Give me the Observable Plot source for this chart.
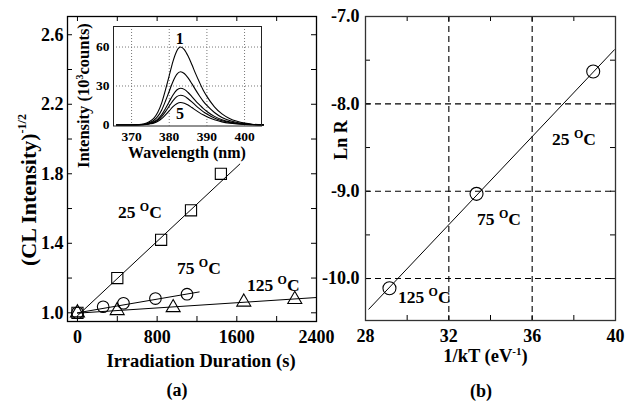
<!DOCTYPE html>
<html><head><meta charset="utf-8">
<script src="https://cdn.jsdelivr.net/npm/d3@7"></script>
<script src="https://cdn.jsdelivr.net/npm/@observablehq/plot@0.6"></script>
<style>
html,body{margin:0;padding:0;background:#fff;}
#c{position:relative;width:633px;height:405px;overflow:hidden;background:#fff;}
#c svg{position:absolute;background:transparent;overflow:visible;}
</style></head><body><div id="c"></div>
<script>
// ---------- Panel (a): (CL Intensity)^-1/2 vs irradiation duration ----------
const sqX = [0, 400, 840, 1140, 1440];
const sqY = [1.0, 1.20, 1.42, 1.59, 1.80];
const ciX = [0, 258, 462, 783, 1100];
const ciY = [1.0, 1.035, 1.055, 1.082, 1.107];
const trX = [0, 399, 961, 1670, 2182];
const trY = [1.0, 1.013, 1.030, 1.062, 1.077];
const fit25X = [0, 1630], fit25Y = [0.983, 1.856];
const fit75X = [0, 1222], fit75Y = [1.0, 1.12];
const fit125X = [0, 2400], fit125Y = [0.998, 1.088];
const aXLabels = [0, 800, 1600, 2400];
const aXTicks = [0, 400, 800, 1200, 1600, 2000, 2400];
const aYLabels = [1.0, 1.4, 1.8, 2.2, 2.6];
const aYTicks = [1.0, 1.2, 1.4, 1.6, 1.8, 2.0, 2.2, 2.4, 2.6];
const aTempLabels = ["25", "75", "125"];
const aTempX = [412, 1004, 1707];
const aTempY = [1.543, 1.22, 1.123];

// ---------- Inset: CL spectra ----------
const wl = [366,370,372,374,375,376,377,378,379,380,381,382,383,384,385,386,387,388,389,390,392,394,396,398,400,402,405];
const spec1 = [0,0,0.3,1.5,3,5.5,10,17,27,38,49,57,60,58,53,46.5,39.5,33,27,22,14,8.5,5,2.8,1.4,0.6,0.2];
const spec2 = [0,0,0.2,1,2,3.8,6.8,11.6,18.4,26,33.5,39,41,39.6,36.2,31.8,27,22.5,18.4,15,9.6,5.8,3.4,1.9,1,0.4,0.15];
const spec3 = [0,0,0.15,0.7,1.4,2.6,4.7,8,12.7,17.9,23.1,26.9,28.3,27.4,25,21.9,18.6,15.6,12.7,10.4,6.6,4,2.4,1.3,0.7,0.3,0.1];
const spec4 = [0,0,0.1,0.6,1.1,2.1,3.8,6.5,10.3,14.5,18.7,21.8,22.9,22.2,20.2,17.8,15.1,12.6,10.3,8.4,5.3,3.2,1.9,1.1,0.5,0.2,0.08];
const spec5 = [0,0,0.09,0.4,0.9,1.6,2.9,4.9,7.8,10.9,14.1,16.4,17.3,16.7,15.3,13.4,11.4,9.5,7.8,6.3,4,2.4,1.4,0.8,0.4,0.17,0.06];
const inXLabels = [370, 380, 390, 400];
const inYLabels = [0, 30, 60];
const peakLabelText = ["1", "5"];
const peakLabelX = [382.9, 383.0];
const peakLabelY = [61.9, 4.2];

// ---------- Panel (b): Arrhenius plot ----------
const bX = [29.15, 33.33, 38.93];
const bY = [-10.11, -9.03, -7.63];
const fitBX = [28.16, 39.95], fitBY = [-10.35, -7.38];
const bXLabels = [28, 32, 36, 40];
const bXTicks = [28, 30, 32, 34, 36, 38, 40];
const bYLabels = [-7, -8, -9, -10];
const bYTicks = [-7, -7.5, -8, -8.5, -9, -9.5, -10];
const bGridX = [32, 36];
const bGridY = [-8, -9, -10];
const bTempLabels = ["25", "75", "125"];
const bTempX = [36.98, 33.38, 29.58];
const bTempY = [-8.474, -9.389, -10.28];

const FONT = "Liberation Serif, Times New Roman, serif";
const zip = (xs, ys) => xs.map((x, i) => ({x, y: ys[i]}));
const baseStyle = {background: "transparent", fontFamily: FONT, fontWeight: "bold", fontSize: "18px", color: "black"};

function rich(svg, {x, y, parts, size, anchor = "start", rotate = false}) {
  const t = d3.select(svg).append("text")
    .attr("x", x).attr("y", y)
    .attr("text-anchor", anchor)
    .attr("font-family", FONT)
    .attr("font-weight", "bold")
    .attr("font-size", size)
    .attr("fill", "black");
  if (rotate) t.attr("transform", `rotate(-90 ${x} ${y})`);
  let shift = 0;
  for (const p of parts) {
    const s = t.append("tspan").text(p.t);
    const target = p.sup ? -p.sup : 0;
    if (target !== shift) { s.attr("dy", target - shift); shift = target; }
    if (p.fs) s.attr("font-size", p.fs);
  }
  return t;
}
const tempParts = (t) => [{t: t + " "}, {t: "O", sup: 7, fs: 12}, {t: "C"}];

const container = document.getElementById("c");

// ----- Panel (a)
const aW = 330, aH = 405, aML = 67, aMR = 14, aMT = 16, aMB = 84;
const aPW = aW - aML - aMR, aPH = aH - aMT - aMB;
const pa = Plot.plot({
  width: aW, height: aH, marginLeft: aML, marginRight: aMR, marginTop: aMT, marginBottom: aMB,
  x: {domain: [-100, 2400]},
  y: {domain: [0.95, 2.705]},
  style: baseStyle,
  marks: [
    Plot.tickX(aXTicks, {x: d => d, insetTop: aPH - 5, stroke: "black"}),
    Plot.tickX(aXTicks, {x: d => d, insetBottom: aPH - 5, stroke: "black"}),
    Plot.tickY(aYTicks, {y: d => d, insetRight: aPW - 5, stroke: "black"}),
    Plot.tickY(aYTicks, {y: d => d, insetLeft: aPW - 5, stroke: "black"}),
    Plot.axisX({ticks: aXLabels, tickSize: 0, tickPadding: 9, label: null, tickFormat: d => String(d)}),
    Plot.axisY({ticks: aYLabels, tickSize: 0, tickPadding: 4, label: null, tickFormat: d => d.toFixed(1)}),
    Plot.line(zip(fit25X, fit25Y), {x: "x", y: "y", stroke: "black", strokeWidth: 1}),
    Plot.line(zip(fit75X, fit75Y), {x: "x", y: "y", stroke: "black", strokeWidth: 1}),
    Plot.line(zip(fit125X, fit125Y), {x: "x", y: "y", stroke: "black", strokeWidth: 1}),
    Plot.dot(zip(sqX, sqY), {x: "x", y: "y", symbol: "square", r: 6.3, stroke: "black", fill: "none", strokeWidth: 1.1}),
    Plot.dot(zip(ciX, ciY), {x: "x", y: "y", symbol: "circle", r: 5.8, stroke: "black", fill: "none", strokeWidth: 1.1}),
    Plot.dot(zip(trX, trY), {x: "x", y: "y", symbol: "triangle", r: 5.2, stroke: "black", fill: "none", strokeWidth: 1.1}),
    Plot.frame({stroke: "black", strokeWidth: 1.3})
  ]
});
pa.style.left = "0px"; pa.style.top = "0px";
container.appendChild(pa);
{
  const sx = pa.scale("x"), sy = pa.scale("y");
  aTempLabels.forEach((t, i) => rich(pa, {x: sx.apply(aTempX[i]), y: sy.apply(aTempY[i]), parts: tempParts(t), size: 17.5}));
  rich(pa, {x: 201, y: 367, anchor: "middle", size: 18.5, parts: [{t: "Irradiation Duration (s)"}]});
  rich(pa, {x: 36, y: 266, rotate: true, size: 22, parts: [{t: "(CL Intensity)"}, {t: "-1/2", sup: 10, fs: 12}]});
  rich(pa, {x: 177, y: 396, anchor: "middle", size: 18, parts: [{t: "(a)"}]});
}

// ----- Inset
const iW = 205, iH = 175, iML = 53, iMR = 4, iMT = 26, iMB = 49.5;
const specData = [spec1, spec2, spec3, spec4, spec5].flatMap((s, k) => s.map((v, i) => ({x: wl[i], y: v, k})));
const pi = Plot.plot({
  width: iW, height: iH, marginLeft: iML, marginRight: iMR, marginTop: iMT, marginBottom: iMB,
  x: {domain: [365.2, 404.5]},
  y: {domain: [-0.8, 75.8]},
  style: baseStyle,
  marks: [
    Plot.frame({fill: "white", stroke: "none"}),
    Plot.gridX({ticks: inXLabels, stroke: "#777", strokeOpacity: 1, strokeDasharray: "1,2"}),
    Plot.gridY({ticks: [30, 60], stroke: "#777", strokeOpacity: 1, strokeDasharray: "1,2"}),
    Plot.line(specData, {x: "x", y: "y", z: "k", stroke: "black", strokeWidth: 1.1, curve: "monotone-x"}),
    Plot.axisX({ticks: inXLabels, tickSize: 0, tickPadding: 5, label: null, fontSize: 13.5}),
    Plot.axisY({ticks: inYLabels, tickSize: 0, tickPadding: 4, label: null, fontSize: 13.5}),
    Plot.frame({stroke: "#222", strokeWidth: 1})
  ]
});
pi.style.left = "60px"; pi.style.top = "0px";
container.appendChild(pi);
{
  const sx = pi.scale("x"), sy = pi.scale("y");
  peakLabelText.forEach((t, i) => rich(pi, {x: sx.apply(peakLabelX[i]), y: sy.apply(peakLabelY[i]), anchor: "middle", size: 16, parts: [{t}]}));
  rich(pi, {x: 127, y: 158, anchor: "middle", size: 16, parts: [{t: "Wavelength (nm)"}]});
  rich(pi, {x: 29, y: 168, rotate: true, size: 16.5, parts: [{t: "Intensity (10"}, {t: "3", sup: 6, fs: 10}, {t: "counts)"}]});
}

// ----- Panel (b)
const bW = 313, bH = 405, bML = 45, bMR = 18, bMT = 16, bMB = 85;
const bPW = bW - bML - bMR, bPH = bH - bMT - bMB;
const pb = Plot.plot({
  width: bW, height: bH, marginLeft: bML, marginRight: bMR, marginTop: bMT, marginBottom: bMB,
  x: {domain: [28, 40]},
  y: {domain: [-10.48, -7.0]},
  style: baseStyle,
  marks: [
    Plot.ruleX(bGridX, {x: d => d, stroke: "black", strokeDasharray: "6,4", strokeWidth: 1.1}),
    Plot.ruleY(bGridY, {y: d => d, stroke: "black", strokeDasharray: "6,4", strokeWidth: 1.1}),
    Plot.tickX(bXTicks, {x: d => d, insetTop: bPH - 5, stroke: "black"}),
    Plot.tickX(bXTicks, {x: d => d, insetBottom: bPH - 5, stroke: "black"}),
    Plot.tickY(bYTicks, {y: d => d, insetRight: bPW - 5, stroke: "black"}),
    Plot.tickY(bYTicks, {y: d => d, insetLeft: bPW - 5, stroke: "black"}),
    Plot.axisX({ticks: bXLabels, tickSize: 0, tickPadding: 9, label: null, tickFormat: d => String(d)}),
    Plot.axisY({ticks: bYLabels, tickSize: 0, tickPadding: 6, label: null, tickFormat: d => d.toFixed(1)}),
    Plot.line(zip(fitBX, fitBY), {x: "x", y: "y", stroke: "black", strokeWidth: 1}),
    Plot.dot(zip(bX, bY), {x: "x", y: "y", r: 6.5, stroke: "black", fill: "none", strokeWidth: 1.1}),
    Plot.frame({stroke: "#333", strokeWidth: 1.3})
  ]
});
pb.style.left = "320px"; pb.style.top = "0px";
container.appendChild(pb);
{
  const sx = pb.scale("x"), sy = pb.scale("y");
  bTempLabels.forEach((t, i) => rich(pb, {x: sx.apply(bTempX[i]), y: sy.apply(bTempY[i]), parts: tempParts(t), size: 17.5}));
  rich(pb, {x: 165.5, y: 362, anchor: "middle", size: 18.5, parts: [{t: "1/kT (eV"}, {t: "-1", sup: 7, fs: 11}, {t: ")"}]});
  rich(pb, {x: 27, y: 140, anchor: "middle", rotate: true, size: 18, parts: [{t: "Ln R"}]});
  rich(pb, {x: 161, y: 397, anchor: "middle", size: 18, parts: [{t: "(b)"}]});
}
</script></body></html>
